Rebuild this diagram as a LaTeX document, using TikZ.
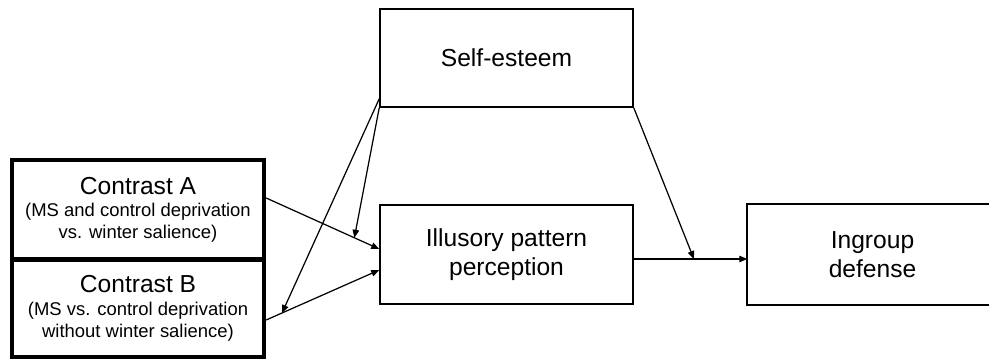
\documentclass[tikz,border=0pt]{standalone}
\usepackage{fontspec}
\setmainfont{Liberation Sans}
\usetikzlibrary{arrows.meta,calc}
\begin{document}
\begin{tikzpicture}[x=0.02cm,y=-0.02cm,
  box/.style={draw, line width=0.9pt, inner sep=0pt, align=center,
    font=\fontsize{14}{16.5}\selectfont},
  cbox/.style={draw, line width=2.5pt, inner sep=0pt, align=center,
    minimum width=5.04cm, font=\fontsize{10.5}{12.5}\selectfont},
  edge/.style={line width=0.9pt},
  arr/.style={-{Triangle[length=1.6mm,width=1.3mm]}, line width=0.7pt},
]
\useasboundingbox (0,0) rectangle (989,361);
\clip (0,0) rectangle (989,361);

\node[box, minimum width=5.06cm, minimum height=1.96cm] (se) at (506.5,58) {Self-esteem};
\node[box, minimum width=5.06cm, minimum height=1.98cm] (ip) at (506.5,254.5) {Illusory pattern\\perception};
\node[box, draw=none, minimum width=4.98cm, minimum height=1.98cm] (ig) at (872.5,254.5) {Ingroup\\defense};
\draw[edge] ([xshift=1cm]ig.north east) -- (ig.north west) -- (ig.south west) -- ([xshift=1cm]ig.south east);

\node[cbox, minimum height=1.99cm] (ca) at (138,209.75)
  {{\fontsize{14}{14}\selectfont Contrast A}\\[0.5pt](MS and control deprivation\\vs. winter salience)};
\node[cbox, minimum height=1.95cm] (cb) at (138,308.25)
  {{\fontsize{14}{14}\selectfont Contrast B}\\[0.5pt](MS vs. control deprivation\\without winter salience)};

\draw[arr] ([yshift=0.235cm]ca.east) -- coordinate[pos=0.78] (m1) ([yshift=0.11cm]ip.west);
\draw[arr] ([yshift=-0.235cm]cb.east) -- coordinate[pos=0.14] (m2) ([yshift=-0.31cm]ip.west);
\draw[arr] ([yshift=-0.09cm]ip.east) -- coordinate[pos=0.53] (m3) ([yshift=-0.09cm]ig.west);

\draw[arr] (se.south west) -- (m1);
\draw[arr] ([yshift=0.18cm]se.south west) -- (m2);
\draw[arr] (se.south east) -- (m3);
\end{tikzpicture}
\end{document}
